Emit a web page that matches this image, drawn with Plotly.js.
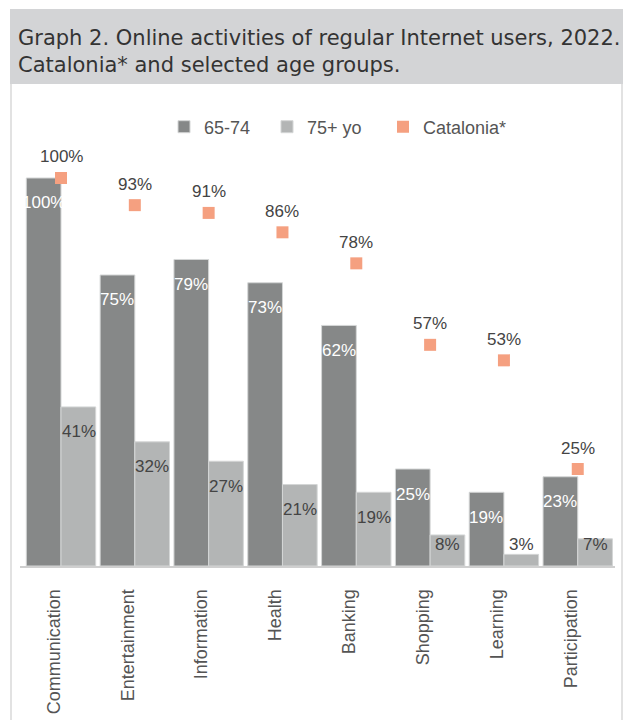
<!DOCTYPE html>
<html>
<head>
<meta charset="utf-8">
<script src="https://cdn.plot.ly/plotly-3.0.1.min.js"></script>
<style>
  html, body { margin: 0; padding: 0; background: #ffffff; }
  #chart { width: 628px; height: 720px; }
</style>
</head>
<body>
<div id="chart"></div>
<script>
// ---- Data ----
const categories = ['Communication', 'Entertainment', 'Information', 'Health', 'Banking', 'Shopping', 'Learning', 'Participation'];
const age65to74 = [100, 75, 79, 73, 62, 25, 19, 23];
const age75plus = [41, 32, 27, 21, 19, 8, 3, 7];
const catalonia = [100, 93, 91, 86, 78, 57, 53, 25];
const seriesNames = ['65-74', '75+ yo', 'Catalonia*'];
const titleText = 'Graph 2. Online activities of regular Internet users, 2022.<br>Catalonia* and selected age groups.';

// ---- Styling / layout constants ----
const W = 628, H = 720;
const M = { l: 20, r: 13, t: 100, b: 154 };
const plotW = W - M.l - M.r;   // 595
const plotH = H - M.t - M.b;   // 466
const yMax = 120.1;
const pxPerUnit = plotH / yMax;
const FONT = '"Liberation Sans", Arial, Helvetica, sans-serif';
const TITLE_FONT = '"DejaVu Sans", "Liberation Sans", Arial, sans-serif';
const DARK = '#868888';
const LIGHT = '#b3b5b5';
const ORANGE = '#f5a080';
const TEXT = '#444444';

function px2paperX(px) { return (px - M.l) / plotW; }
function px2paperY(py) { return (H - M.b - py) / plotH; }

const traces = [
  {
    type: 'bar', name: seriesNames[0], x: categories, y: age65to74, legend: 'legend',
    marker: { color: DARK, line: { color: '#d4d6d6', width: 1 } },
    hoverinfo: 'skip'
  },
  {
    type: 'bar', name: seriesNames[1], x: categories, y: age75plus, legend: 'legend2',
    marker: { color: LIGHT, line: { color: '#d4d6d6', width: 1 } },
    hoverinfo: 'skip'
  },
  {
    type: 'scatter', mode: 'markers', name: seriesNames[2], x: categories, y: catalonia, legend: 'legend3',
    marker: { symbol: 'square', size: 12, color: ORANGE },
    cliponaxis: false, hoverinfo: 'skip'
  }
];

const annotations = [];
const half = 17.5;
categories.forEach((c, i) => {
  const a = age65to74[i], b = age75plus[i], k = catalonia[i];
  annotations.push({
    x: c, y: a, xref: 'x', yref: 'y', text: a + '%', showarrow: false,
    xshift: -half, yshift: -Math.min(25, a * pxPerUnit - 22), yanchor: 'middle',
    font: { family: FONT, size: 17, color: '#ffffff' }
  });
  annotations.push({
    x: c, y: b, xref: 'x', yref: 'y', text: b + '%', showarrow: false,
    xshift: half, yshift: -Math.min(25, b * pxPerUnit - 22), yanchor: 'middle',
    font: { family: FONT, size: 17, color: TEXT }
  });
  annotations.push({
    x: c, y: k, xref: 'x', yref: 'y', text: k + '%', showarrow: false,
    yshift: 21, yanchor: 'middle',
    font: { family: FONT, size: 17, color: TEXT }
  });
});

const shapes = [
  { type: 'rect', xref: 'paper', yref: 'paper', layer: 'below',
    x0: px2paperX(10), x1: px2paperX(623), y0: px2paperY(84), y1: px2paperY(9),
    fillcolor: '#d3d4d6', line: { width: 0 } },
  { type: 'line', xref: 'paper', yref: 'paper', layer: 'below',
    x0: px2paperX(11), x1: px2paperX(11), y0: px2paperY(720), y1: px2paperY(84),
    line: { color: '#e2e2e2', width: 2 } },
  { type: 'line', xref: 'paper', yref: 'paper', layer: 'below',
    x0: px2paperX(622), x1: px2paperX(622), y0: px2paperY(720), y1: px2paperY(84),
    line: { color: '#e2e2e2', width: 2 } }
];

function legendAt(squareLeftPx) {
  return {
    orientation: 'h', x: px2paperX(squareLeftPx - 14), xanchor: 'left',
    y: px2paperY(127), yanchor: 'middle',
    font: { family: FONT, size: 18, color: '#555555' }, bgcolor: 'rgba(0,0,0,0)'
  };
}

const layout = {
  width: W, height: H,
  margin: M,
  paper_bgcolor: '#ffffff', plot_bgcolor: 'rgba(0,0,0,0)',
  font: { family: FONT, color: TEXT },
  title: {
    text: titleText,
    x: 18 / W, xanchor: 'left', xref: 'container',
    y: 1 - 45 / H, yanchor: 'top', yref: 'container',
    font: { family: TITLE_FONT, size: 21, color: '#333333' }
  },
  barmode: 'group', bargap: 0.06, bargroupgap: 0,
  showlegend: true,
  legend: legendAt(178),
  legend2: legendAt(281),
  legend3: legendAt(397),
  xaxis: {
    type: 'category', showline: true, linecolor: '#cfcfcf', linewidth: 2,
    ticks: '', tickangle: -90, ticklabelstandoff: 14, ticklabelshift: -7,
    tickfont: { family: FONT, size: 18, color: '#555555' },
    showgrid: false, zeroline: false, fixedrange: true
  },
  yaxis: {
    range: [0, yMax], visible: false, showgrid: false, zeroline: false, fixedrange: true
  },
  annotations: annotations,
  shapes: shapes,
  hovermode: false
};

Plotly.newPlot('chart', traces, layout, { displayModeBar: false, staticPlot: true });
</script>
</body>
</html>
